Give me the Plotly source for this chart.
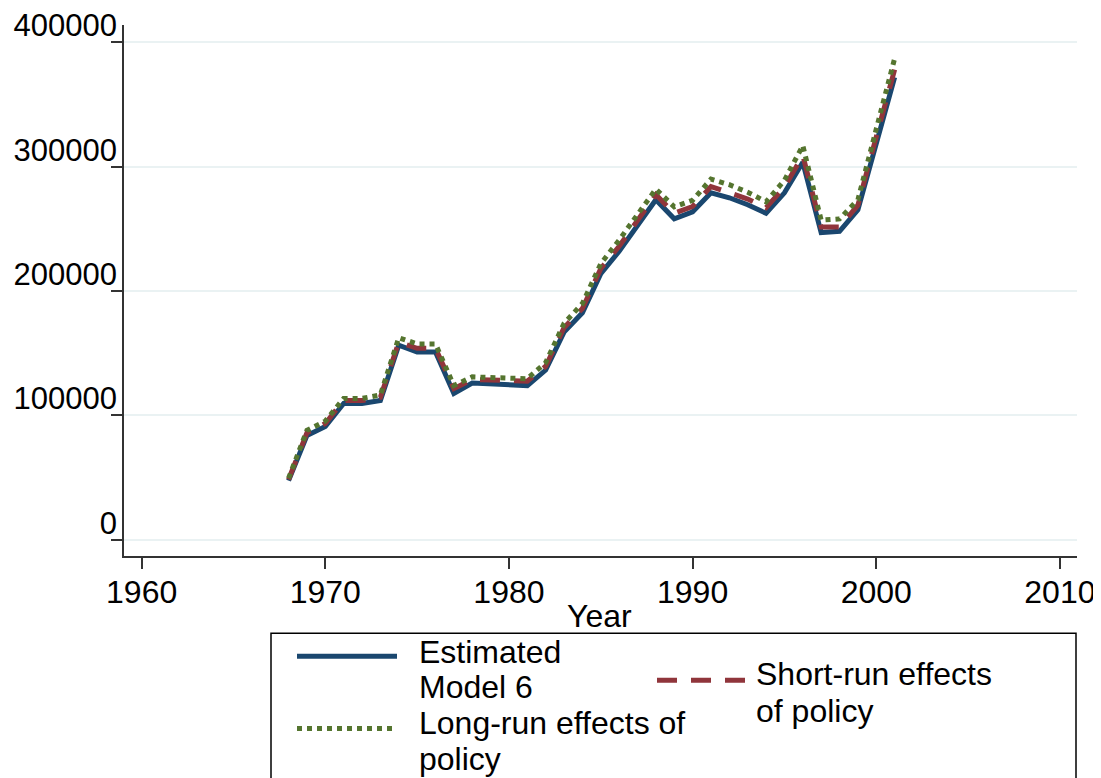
import plotly.graph_objects as go

years = list(range(1968, 2002))
estimated = [47600, 83900, 91100, 109700, 109700, 112000, 156500, 151000, 151000, 117700,
             126000, 125500, 124200, 124000, 136500, 167000, 182500, 214000, 232000, 252000,
             273400, 258100, 263700, 279000, 275000, 269400, 262500, 279000, 303500, 247000,
             248000, 265300, 318000, 371800]
short_run = [48500, 86000, 93500, 112000, 112000, 114500, 159000, 154000, 154000, 121500,
             129000, 128500, 127500, 127500, 139500, 170500, 186000, 218000, 236000, 256500,
             277500, 262500, 268000, 284000, 279500, 274000, 267000, 283500, 309000, 251600,
             251600, 269000, 324000, 378000]
long_run = [49500, 88000, 95500, 113700, 113700, 116500, 162500, 157500, 157500, 124000,
            131000, 130500, 129500, 129500, 142500, 174000, 190000, 222000, 241000, 261500,
            282000, 267700, 273000, 290000, 285500, 279500, 271800, 289000, 317000, 257000,
            258000, 273400, 330000, 387000]

x_ticks = [1960, 1970, 1980, 1990, 2000, 2010]
y_ticks = [0, 100000, 200000, 300000, 400000]
y_labels = ["0", "100000", "200000", "300000", "400000"]
x_title = "Year"

names = ["Estimated Model 6", "Short-run effects of policy", "Long-run effects of policy"]
legend_lines = [["Estimated", "Model 6"], ["Short-run effects", "of policy"],
                ["Long-run effects of", "policy"]]
colors = ["#1a476f", "#90353b", "#55752f"]
dashes = ["solid", "20px,14px", "5px,5px"]

FONT = "Liberation Sans, Arial, sans-serif"
FS = 32
# page has an 8px body margin: figure drawn at offset (8, 8)
OFF = 8
W, H = 1101 - OFF, 778 - OFF
PLOT_L, PLOT_R, PLOT_T, PLOT_B = 124, 1077, 25, 555.7
L, T = PLOT_L - OFF, PLOT_T - OFF
R, B = 1101 - PLOT_R, 778 - PLOT_B
PW, PH = PLOT_R - PLOT_L, PLOT_B - PLOT_T

fig = go.Figure()
for vals, nm, c, d in zip([estimated, short_run, long_run], names, colors, dashes):
    fig.add_trace(go.Scatter(x=years, y=vals, mode="lines", name=nm,
                             line=dict(color=c, width=5, dash=d), showlegend=False))

def px_x(px):
    return (px - PLOT_L) / PW

def px_y(py):
    return (PLOT_B - py) / PH

def mid_from_baseline(bl):
    return px_y(bl - 0.3465 * FS)

shapes = []
annotations = []
# axis title
annotations.append(dict(xref="paper", yref="paper", x=px_x(599), y=mid_from_baseline(627),
                        xanchor="center", yanchor="middle", showarrow=False, text=x_title,
                        font=dict(family=FONT, size=FS, color="black")))
# legend box
shapes.append(dict(type="rect", xref="paper", yref="paper",
                   x0=px_x(271), x1=px_x(1076), y0=px_y(800), y1=px_y(633),
                   line=dict(color="black", width=1.5), fillcolor="white", layer="above"))
# (sample x0, x1, sample y, text x, [baseline y per line], index)
legend_items = [
    (297, 397, 656, 418, [663, 698], 0),
    (657, 748, 680, 755, [685, 722], 1),
    (297, 397, 728, 418, [734, 770], 2),
]
for x0, x1, ly, tx, baselines, i in legend_items:
    shapes.append(dict(type="line", xref="paper", yref="paper",
                       x0=px_x(x0), x1=px_x(x1), y0=px_y(ly), y1=px_y(ly),
                       line=dict(color=colors[i], width=5, dash=dashes[i])))
    for txt, bl in zip(legend_lines[i], baselines):
        annotations.append(dict(xref="paper", yref="paper", x=px_x(tx - 1),
                                y=mid_from_baseline(bl),
                                xanchor="left", yanchor="middle", align="left",
                                showarrow=False, text=txt,
                                font=dict(family=FONT, size=FS, color="black")))

fig.update_layout(
    width=W, height=H,
    margin=dict(l=L, r=R, t=T, b=B, pad=0, autoexpand=False),
    paper_bgcolor="white", plot_bgcolor="white",
    font=dict(family=FONT, size=FS, color="black"),
    shapes=shapes, annotations=annotations,
    showlegend=False,
    xaxis=dict(range=[1959.04, 2010.93], tickmode="array", tickvals=x_ticks,
               ticks="outside", ticklen=11, tickwidth=1.5, tickcolor="#333",
               showline=True, linecolor="#333", linewidth=1.5, showgrid=False,
               zeroline=False, ticklabelstandoff=-4, ticklabeloverflow="allow",
               tickfont=dict(size=FS), automargin=False),
    yaxis=dict(range=[-13000, 413900], tickmode="array", tickvals=y_ticks, ticktext=y_labels,
               ticks="outside", ticklen=11, tickwidth=1.5, tickcolor="#333",
               showline=True, linecolor="#333", linewidth=1.5, showgrid=True,
               gridcolor="#eaf2f3", gridwidth=1.5, zeroline=False,
               ticklabelshift=-17, ticklabelstandoff=-12, ticklabeloverflow="allow",
               tickfont=dict(size=31), automargin=False),
)

fig.write_html("out.html")
